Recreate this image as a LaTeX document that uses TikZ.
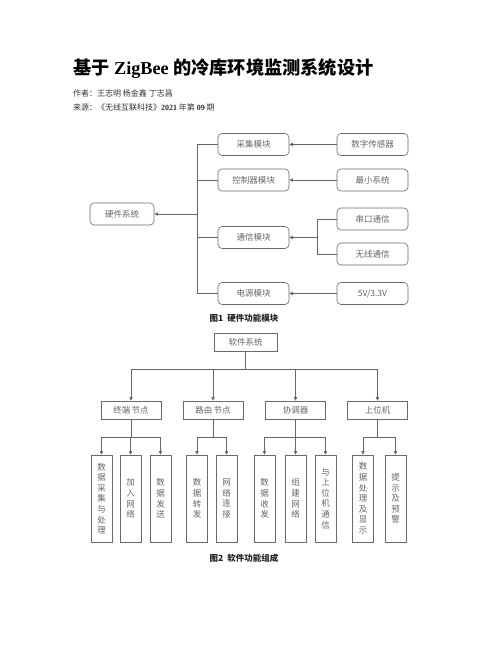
\documentclass[tikz,border=0pt]{standalone}
\usepackage{fontspec}
\setmainfont{Liberation Serif}
\newfontfamily\cjk{Noto Sans CJK SC}
\usetikzlibrary{arrows.meta}
\definecolor{boxgray}{HTML}{6A6A6A}
\definecolor{txtgray}{HTML}{666666}
\definecolor{linegray}{HTML}{666666}
\definecolor{captxt}{HTML}{222222}
\definecolor{metatxt}{HTML}{333333}
\begin{document}
\begin{tikzpicture}[x=1pt,y=-1pt,
  hbox/.style={draw=boxgray, rounded corners=4pt, minimum width=71pt, minimum height=22pt, inner sep=0pt, font=\cjk\fontsize{8.5}{10}\selectfont, text=txtgray, line width=0.6pt},
  sbox/.style={draw=boxgray, minimum width=60pt, minimum height=18pt, inner sep=0pt, font=\cjk\fontsize{8.5}{10}\selectfont, text=txtgray, line width=0.6pt},
  vbox/.style={draw=boxgray, minimum width=21pt, minimum height=87pt, inner sep=0pt, align=center, font=\cjk\fontsize{8.5}{10.6}\selectfont, text=txtgray, line width=0.6pt},
  conn/.style={draw=linegray, line width=0.6pt},
  arr/.style={conn, -{Triangle[length=3.5pt,width=3.2pt]}},
  capt/.style={font=\cjk\bfseries\fontsize{8.5}{10}\selectfont, text=captxt, inner sep=0pt},
  meta/.style={font=\cjk\fontsize{8}{9}\selectfont, text=metatxt, anchor=west, inner sep=0pt}
]
\useasboundingbox[fill=white] (0,0) rectangle (502,649);

% header
\node[anchor=west, inner sep=0pt] (title) at (73,69) {\fontsize{18.2}{20}\selectfont{\cjk\bfseries 基于} \textbf{ZigBee} {\cjk\bfseries 的冷库环境监测系统设计}};
\node[meta] (author) at (73,93) {作者：王志明 杨金鑫 丁志昌};
\node[meta] (source) at (73,107.5) {来源：《无线互联科技》{\rmfamily\bfseries 2021} 年第 {\rmfamily\bfseries 09} 期};

% figure 1
\node[hbox, minimum width=64pt] (hw) at (122,214) {硬件系统};
\node[hbox] (cj) at (253.5,144.5) {采集模块};
\node[hbox] (kz) at (253.5,180) {控制器模块};
\node[hbox] (tx) at (253.5,237.5) {通信模块};
\node[hbox] (dy) at (253.5,293.5) {电源模块};
\node[hbox] (sz) at (372.5,144.5) {数字传感器};
\node[hbox] (zx) at (372.5,180) {最小系统};
\node[hbox] (ck) at (372.5,219) {串口通信};
\node[hbox] (wx) at (372.5,254) {无线通信};
\node[hbox] (dv) at (372.5,293.5) {5V/3.3V};
\coordinate (tm) at (197,214);
\coordinate (br) at (317,237.5);
\draw[conn] (cj.west) -- (cj.west -| tm) -- (dy.west -| tm) -- (dy.west);
\draw[conn] (kz.west) -- (kz.west -| tm);
\draw[conn] (tx.west) -- (tx.west -| tm);
\draw[arr] (tm) -- (hw.east);
\draw[arr] (sz.west) -- (cj.east);
\draw[arr] (zx.west) -- (kz.east);
\draw[conn] (ck.west) -- (ck.west -| br) -- (wx.west -| br) -- (wx.west);
\draw[arr] (br) -- (tx.east);
\draw[arr] (dv.west) -- (dy.east);
\node[capt] (cap1) at (244,318) {图1\ \ 硬件功能模块};

% figure 2
\node[sbox, minimum width=63pt] (rj) at (245.5,342) {软件系统};
\node[sbox] (zd) at (131,410) {终端\,节点};
\node[sbox] (ly) at (213,410) {路由\,节点};
\node[sbox] (xt) at (295.5,410) {协调器};
\node[sbox] (sw) at (377.5,410) {上位机};
\coordinate (b1) at (0,369);
\coordinate (b2) at (0,437);
\draw[conn] (rj.south) -- (rj.south |- b1);
\draw[conn] (zd.north |- b1) -- (sw.north |- b1);
\foreach \n in {zd,ly,xt,sw} \draw[arr] (\n.north |- b1) -- (\n.north);

\node[vbox] (v1) at (101.5,498.5) {数\\据\\采\\集\\与\\处\\理};
\node[vbox] (v2) at (130.5,498.5) {加\\入\\网\\络};
\node[vbox] (v3) at (160.5,498.5) {数\\据\\发\\送};
\node[vbox] (v4) at (197,498.5) {数\\据\\转\\发};
\node[vbox] (v5) at (226.5,498.5) {网\\络\\连\\接};
\node[vbox] (v6) at (264.5,498.5) {数\\据\\收\\发};
\node[vbox] (v7) at (295.5,498.5) {组\\建\\网\\络};
\node[vbox] (v8) at (325.5,498.5) {与\\上\\位\\机\\通\\信};
\node[vbox] (v9) at (363,498.5) {数\\据\\处\\理\\及\\显\\示};
\node[vbox] (v10) at (395.5,498.5) {提\\示\\及\\预\\警};

\foreach \p/\a/\b in {zd/v1/v3, ly/v4/v5, xt/v6/v8, sw/v9/v10} {
  \draw[conn] (\p.south) -- (\p.south |- b2);
  \draw[conn] (\a.north |- b2) -- (\b.north |- b2);
}
\foreach \v in {v1,v2,v3,v4,v5,v6,v7,v8,v9,v10} \draw[arr] (\v.north |- b2) -- (\v.north);

\node[capt] (cap2) at (244,558) {图2\ \ 软件功能组成};
\end{tikzpicture}
\end{document}
